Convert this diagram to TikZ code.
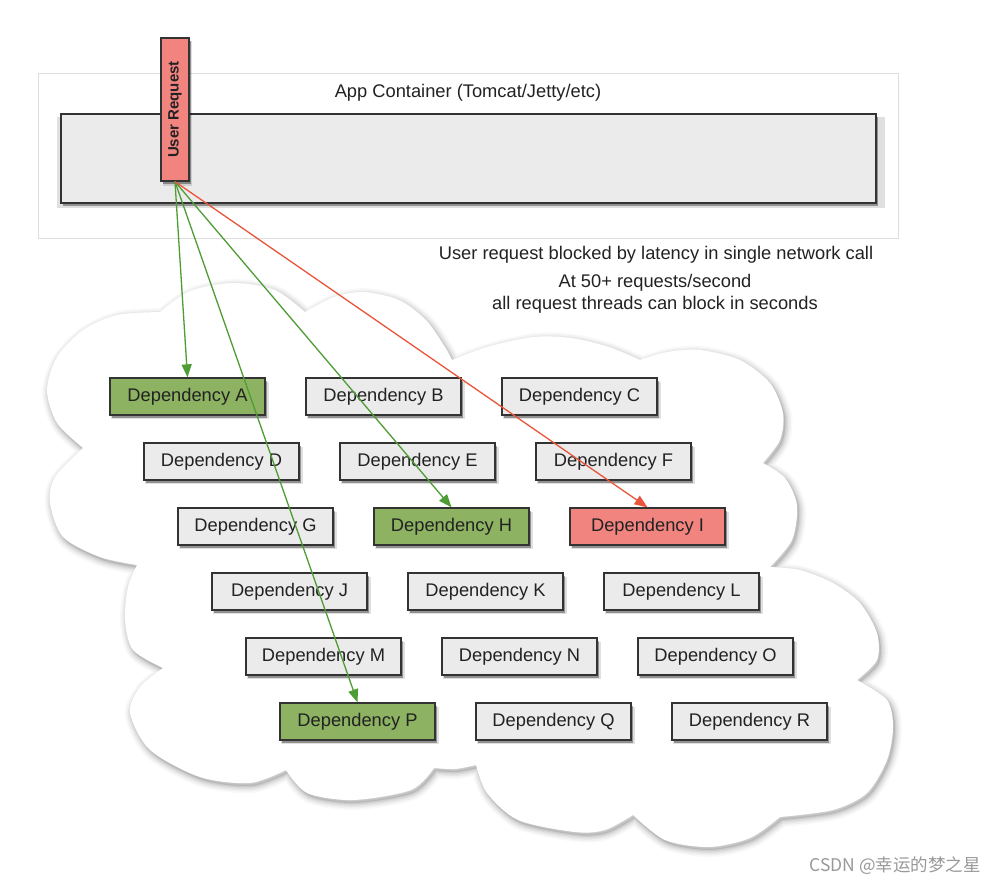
\documentclass[tikz,border=0pt]{standalone}
\usepackage{fontspec}
\setmainfont{Liberation Sans}
\newfontfamily\cjk{Noto Sans CJK SC}
\usetikzlibrary{arrows.meta,shadows}
\definecolor{depgray}{HTML}{EBEBEB}
\definecolor{depgreen}{HTML}{8CB262}
\definecolor{depred}{HTML}{F28480}
\definecolor{arrgreen}{HTML}{4E9D34}
\definecolor{arrred}{HTML}{E8553A}
\definecolor{edgecol}{HTML}{333333}
\definecolor{txtcol}{HTML}{222222}
\definecolor{framecol}{HTML}{DDDDDD}
\newcommand\cloudpath{%
  plot[smooth] coordinates {(160,312) (190,291) (233,283) (275,290) (305,312)}
  -- plot[smooth] coordinates {(305,312) (334,297) (364,292) (399,300) (426,320) (445,347) (452,360)}
  -- plot[smooth] coordinates {(452,360) (487,347) (533,337) (571,338) (609,347) (640,360)}
  -- plot[smooth] coordinates {(640,360) (667,352) (700,350) (740,360) (770,383) (783,413) (780,440) (763,463)}
  -- plot[smooth] coordinates {(763,463) (785,478) (797,505) (792,540) (770,567)}
  -- plot[smooth] coordinates {(770,567) (800,570) (833,583) (860,603) (877,633) (877,660) (857,680)}
  -- plot[smooth] coordinates {(857,680) (887,700) (893,727) (887,760) (867,793) (833,810) (780,817)}
  -- plot[smooth] coordinates {(780,817) (750,838) (709,847) (665,840) (633,815)}
  -- plot[smooth] coordinates {(633,815) (605,830) (575,832) (518,820) (487,793) (476,765)}
  -- plot[smooth] coordinates {(476,765) (455,769) (434,768)}
  -- plot[smooth] coordinates {(434,768) (411,790) (353,800) (307,793) (286,770)}
  -- plot[smooth] coordinates {(286,770) (250,783) (200,777) (150,750) (130,713) (140,687) (163,668)}
  -- plot[smooth] coordinates {(163,668) (133,650) (125,620) (128,587) (137,565)}
  -- plot[smooth] coordinates {(137,565) (100,557) (63,537) (50,503) (55,477) (83,448)}
  -- plot[smooth] coordinates {(83,448) (57,423) (47,390) (57,357) (83,330) (117,315) (160,312)}
  -- cycle}
\begin{document}
\begin{tikzpicture}[x=1pt,y=-1pt,
  every node/.style={font=\fontsize{18.3}{22}\selectfont, text=txtcol},
  boxshadow/.style={drop shadow={shadow xshift=2.5pt,shadow yshift=-4pt,opacity=0.12,shadow scale=1.015,fill=black},
                    drop shadow={shadow xshift=1.5pt,shadow yshift=-3pt,opacity=0.35,fill=black}},
  dep/.style={draw=edgecol, line width=1.3pt, fill=depgray, minimum width=155pt, minimum height=37pt, inner sep=0pt, boxshadow},
  depok/.style={dep, fill=depgreen},
  depbad/.style={dep, fill=depred},
  okarrow/.style={draw=arrgreen, line width=1.3pt, -{Triangle[length=13pt,width=10pt]}},
  badarrow/.style={draw=arrred, line width=1.3pt, -{Triangle[length=13pt,width=10pt]}},
  label/.style={align=center, inner sep=0pt}
]
\useasboundingbox (0,0) rectangle (1006,886);
\fill[white] (0,0) rectangle (1006,886);

% App container
\node[draw=framecol, line width=1pt, minimum width=860pt, minimum height=165pt, inner sep=0pt] (container) at (468,155.5) {};
\node[label] (apptitle) at (468,93) {App Container (Tomcat/Jetty/etc)};
\node[draw=edgecol, line width=1.3pt, fill=depgray, minimum width=815pt, minimum height=89pt, inner sep=0pt, boxshadow] (appbox) at (468.5,158.5) {};
\node[draw=edgecol, line width=1.3pt, fill=depred, minimum width=28pt, minimum height=143pt, inner sep=0pt, boxshadow] (ur) at (175,109.5) {};
\node[rotate=90, inner sep=0pt, font=\fontsize{15}{18}\selectfont\bfseries] (urtext) at (ur.center) {User Request};

% captions
\node[label] (cap1) at (656,255) {User request blocked by latency in single network call};
\node[label] (cap2) at (655,294) {At 50+ requests/second\\all request threads can block in seconds};

% cloud with soft shadow
\begin{scope}[shift={(2,3)}]
  \foreach \w/\o in {14/0.025, 11/0.03, 8/0.04, 5/0.05, 2.5/0.06}
    \path[draw=black, line width=\w pt, opacity=\o, line join=round] \cloudpath;
  \fill[black, opacity=0.1] \cloudpath;
\end{scope}
\fill[white] \cloudpath;

% dependencies
\node[depok]  (A) at (187.5,396.5) {Dependency A};
\node[dep]    (B) at (383.5,396.5) {Dependency B};
\node[dep]    (C) at (579.5,396.5) {Dependency C};
\node[dep]    (D) at (221.5,461.5) {Dependency D};
\node[dep]    (E) at (417.5,461.5) {Dependency E};
\node[dep]    (F) at (613.5,461.5) {Dependency F};
\node[dep]    (G) at (255.5,526.5) {Dependency G};
\node[depok]  (H) at (451.5,526.5) {Dependency H};
\node[depbad] (I) at (647.5,526.5) {Dependency I};
\node[dep]    (J) at (289.5,591.5) {Dependency J};
\node[dep]    (K) at (485.5,591.5) {Dependency K};
\node[dep]    (L) at (681.5,591.5) {Dependency L};
\node[dep]    (M) at (323.5,656.5) {Dependency M};
\node[dep]    (N) at (519.5,656.5) {Dependency N};
\node[dep]    (O) at (715.5,656.5) {Dependency O};
\node[depok]  (P) at (357.5,721.5) {Dependency P};
\node[dep]    (Q) at (553.5,721.5) {Dependency Q};
\node[dep]    (R) at (749.5,721.5) {Dependency R};

% connectors
\draw[okarrow] (ur.south) -- (A.north);
\draw[okarrow] (ur.south) -- (P.north);
\draw[okarrow] (ur.south) -- (H.north);
\draw[badarrow] (ur.south) -- (I.north);

% footer
\node[label, text=black!40, font=\cjk\fontsize{17.5}{20}\selectfont] (csdn) at (895,866) {CSDN @幸运的梦之星};
\end{tikzpicture}
\end{document}
